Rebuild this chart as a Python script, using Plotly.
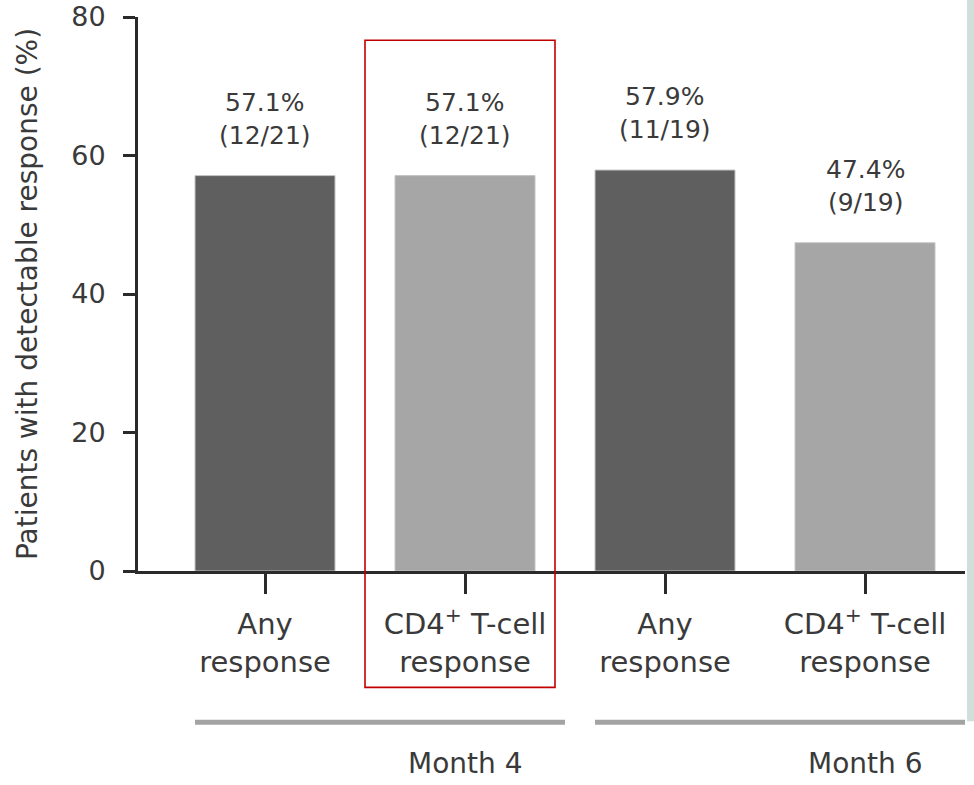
import plotly.graph_objects as go

# ---- data ----
categories = ["Any<br>response", "CD4<sup>+</sup> T-cell<br>response",
              "Any<br>response", "CD4<sup>+</sup> T-cell<br>response"]
values = [57.1, 57.1, 57.9, 47.4]
counts = ["(12/21)", "(12/21)", "(11/19)", "(9/19)"]
group_names = ["Month 4", "Month 6"]
group_members = [[0, 1], [2, 3]]
highlight_index = 1
y_ticks = [0, 20, 40, 60, 80]

DARK = "#5f5f5f"
LIGHT = "#a6a6a6"
bar_colors = [DARK, LIGHT, DARK, LIGHT]
AXIS = "#2a2a2a"
TEXT = "#3a3a3a"
FONT = "DejaVu Sans, Verdana, sans-serif"
BAR_W = 0.7

xs = list(range(len(categories)))

fig = go.Figure()
fig.add_trace(go.Bar(
    x=xs, y=values, width=BAR_W,
    marker=dict(color=bar_colors, line=dict(color="#c4c4c4", width=1)),
    hoverinfo="skip",
))

# value annotations
for x, v, c in zip(xs, values, counts):
    fig.add_annotation(x=x, y=v, xref="x", yref="y",
                       text=f"{v:.1f}%<br>{c}", showarrow=False,
                       yanchor="bottom", yshift=24,
                       font=dict(family=FONT, size=25, color=TEXT))

# group underlines and labels
for name, members in zip(group_names, group_members):
    x0 = members[0] - BAR_W / 2
    x1 = members[-1] + 0.5
    fig.add_shape(type="line", xref="x", yref="paper",
                  x0=x0, x1=x1, y0=-0.273, y1=-0.273,
                  line=dict(color="#a3a3a3", width=5))
    fig.add_annotation(x=members[-1], y=-0.347, xref="x", yref="paper",
                       text=name, showarrow=False, yanchor="middle",
                       font=dict(family=FONT, size=28, color=TEXT))

# highlight rectangle
fig.add_shape(type="rect", xref="x", yref="paper",
              x0=highlight_index - 0.5, x1=highlight_index + 0.45,
              y0=-0.21, y1=0.958,
              line=dict(color="#c00000", width=1.6))

# teal strip on the right
fig.add_shape(type="rect", xref="paper", yref="paper",
              x0=1.0024, x1=1.03, y0=-0.271, y1=1.05,
              line=dict(width=0), fillcolor="#cfe0da", layer="above")

fig.update_layout(
    width=974, height=785,
    margin=dict(l=138, r=9, t=17, b=214, autoexpand=False),
    paper_bgcolor="white", plot_bgcolor="white",
    showlegend=False,
    font=dict(family=FONT, color=TEXT),
)
fig.update_xaxes(
    range=[-0.635, 3.5], automargin=False,
    tickmode="array", tickvals=xs, ticktext=categories,
    ticks="outside", ticklen=20, tickwidth=3, tickcolor=AXIS,
    showline=True, linecolor=AXIS, linewidth=3,
    showgrid=False, zeroline=False,
    tickfont=dict(family=FONT, size=29, color=TEXT),
    ticklabelstandoff=5,
)
fig.update_yaxes(
    range=[0, 80], automargin=False, tickmode="array", tickvals=y_ticks,
    ticks="outside", ticklen=12, tickwidth=3, tickcolor=AXIS,
    showline=True, linecolor=AXIS, linewidth=3,
    showgrid=False, zeroline=False,
    tickfont=dict(family=FONT, size=27, color=TEXT),
    ticklabelstandoff=12, ticklabeloverflow="allow",
    title=dict(text="Patients with detectable response (%)",
               font=dict(family=FONT, size=28, color=TEXT), standoff=26),
)

fig.write_html("out.html",
               config={"displayModeBar": False},
               post_script="document.body.style.margin='0px';")
